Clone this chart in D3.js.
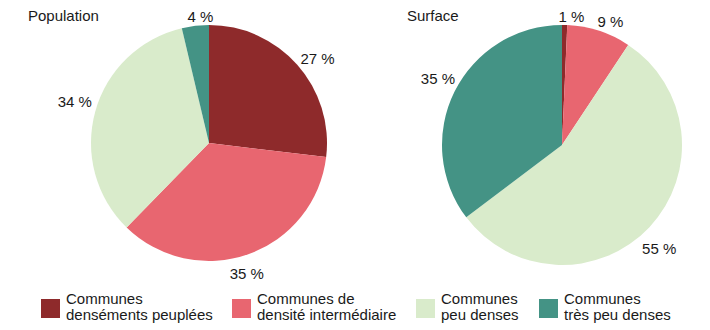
<!DOCTYPE html>
<html><head><meta charset="utf-8">
<script src="https://cdn.jsdelivr.net/npm/d3@7"></script>
<style>
body{margin:0;background:#fff;}
text{font-family:"Liberation Sans",Arial,sans-serif;fill:#1a1a1a;}
</style></head><body>
<svg id="c" width="710" height="330"></svg>
<script>
const categories = ["Communes\ndenséments peuplées","Communes de\ndensité intermédiaire","Communes\npeu denses","Communes\ntrès peu denses"];
const colors = ["#8e2a2b","#e86670","#d9ebcb","#449385"];
const chartTitles = ["Population","Surface"];
const populationValues = [26.9, 35.4, 34.0, 3.7];
const surfaceValues = [0.7, 8.6, 55.4, 35.3];

const svg = d3.select("#c");
const pies = [
  {title: chartTitles[0], values: populationValues, cx: 209, cy: 143, r: 118, tx: 28, ty: 21},
  {title: chartTitles[1], values: surfaceValues, cx: 562, cy: 145, r: 120, tx: 407, ty: 21}
];
const pieGen = d3.pie().sort(null).value(d => d);
pies.forEach(p => {
  const g = svg.append("g").attr("transform", `translate(${p.cx},${p.cy})`);
  const arcs = pieGen(p.values);
  const arc = d3.arc().innerRadius(0).outerRadius(p.r);
  g.selectAll("path").data(arcs).join("path")
    .attr("d", arc).attr("fill", (d,i) => colors[i]);
  g.selectAll("text.lbl").data(arcs).join("text").attr("class","lbl")
    .each(function(d){
      const a = (d.startAngle + d.endAngle)/2 + 0.05;
      const s = Math.sin(a), c = -Math.cos(a);
      const dist = p.r + 11 + 13*Math.abs(s);
      d3.select(this).attr("x", dist*s).attr("y", dist*c + 3)
        .attr("text-anchor","middle").attr("dominant-baseline","central")
        .style("font-size","15px")
        .text(Math.round(d.data) + " %");
    });
  svg.append("text").attr("x", p.tx).attr("y", p.ty).style("font-size","15px").text(p.title);
});

const legendX = [41, 232, 416, 539];
const lg = svg.append("g");
categories.forEach((c,i) => {
  lg.append("rect").attr("x", legendX[i]).attr("y", 299).attr("width", 19).attr("height", 19).attr("fill", colors[i]);
  c.split("\n").forEach((line, j) => {
    lg.append("text").attr("x", legendX[i] + 25).attr("y", 304 + j*16)
      .style("font-size","15px").text(line);
  });
});
</script></body></html>
